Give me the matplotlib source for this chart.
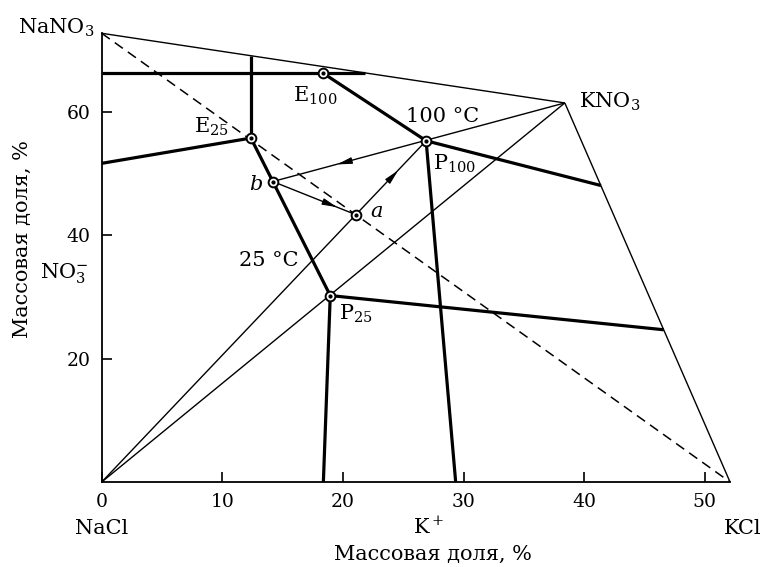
import matplotlib
matplotlib.use("Agg")
import matplotlib.pyplot as plt
import numpy as np

# ---- data (mass fractions, %) ----
corner_names = ["NaCl", "NaNO3", "KNO3", "KCl"]
corner_x = [0.0, 0.0, 38.4, 52.1]
corner_y = [0.0, 72.8, 61.5, 0.0]

point_names = ["E25", "E100", "b", "a", "P100", "P25"]
point_x = [12.37, 18.34, 14.19, 21.1, 26.9, 18.95]
point_y = [55.8, 66.35, 48.75, 43.35, 55.36, 30.25]

# ends of thick boundary curves
edge_names = ["L66", "R66", "E25top", "L52", "P25bot", "P25right", "P100right", "P100bot"]
edge_x = [0.0, 21.85, 12.37, 0.0, 18.38, 46.6, 41.4, 29.35]
edge_y = [66.35, 66.35, 69.16, 51.7, 0.0, 24.7, 48.1, 0.0]

xticks = [0, 10, 20, 30, 40, 50]
yticks = [20, 40, 60]

P = {}
for n, x, y in zip(corner_names, corner_x, corner_y):
    P[n] = (x, y)
for n, x, y in zip(point_names, point_x, point_y):
    P[n] = (x, y)
for n, x, y in zip(edge_names, edge_x, edge_y):
    P[n] = (x, y)

thin_lines = [("NaNO3", "KNO3"), ("KNO3", "KCl"), ("NaCl", "KNO3"),
              ("NaCl", "P100"), ("b", "KNO3"), ("b", "a")]
thick_lines = [("L66", "R66"), ("E25top", "E25"), ("L52", "E25"),
               ("E25", "b"), ("b", "P25"), ("P25", "P25bot"), ("P25", "P25right"),
               ("E100", "P100"), ("P100", "P100right"), ("P100", "P100bot")]
arrows = [("b", "a", 0.77), ("a", "P100", 0.60), ("P100", "b", 0.58)]

plt.rcParams['font.family'] = ['DejaVu Serif']
plt.rcParams['mathtext.fontset'] = 'dejavuserif'

fig = plt.figure(figsize=(7.63, 5.67), dpi=100)
ax = fig.add_axes([0.1333, 0.1499, 0.8235, 0.7914])
ax.set_xlim(0, 52.1)
ax.set_ylim(0, 72.8)
for s in ["top", "right"]:
    ax.spines[s].set_visible(False)
for s in ["left", "bottom"]:
    ax.spines[s].set_linewidth(1.3)

# dashed diagonal
ax.plot([P["NaNO3"][0], P["KCl"][0]], [P["NaNO3"][1], P["KCl"][1]],
        color="black", lw=1.1, ls=(0, (6.5, 4)), clip_on=False)

for a, b in thin_lines:
    ax.plot([P[a][0], P[b][0]], [P[a][1], P[b][1]], color="black", lw=1.0,
            clip_on=False, solid_capstyle="butt")
for a, b in thick_lines:
    ax.plot([P[a][0], P[b][0]], [P[a][1], P[b][1]], color="black", lw=2.3,
            clip_on=False, solid_capstyle="butt")

for a, b, f in arrows:
    x0, y0 = P[a]
    x1, y1 = P[b]
    tx, ty = x0 + f * (x1 - x0), y0 + f * (y1 - y0)
    sx, sy = x0 + (f - 0.05) * (x1 - x0), y0 + (f - 0.05) * (y1 - y0)
    ax.annotate("", xy=(tx, ty), xytext=(sx, sy),
                arrowprops=dict(arrowstyle="-|>,head_length=0.9,head_width=0.2",
                                color="black", lw=0.8, shrinkA=0, shrinkB=0))

ax.plot(point_x, point_y, "o", ms=7, mfc="white", mec="black", mew=1.4, zorder=5)
ax.plot(point_x, point_y, "o", ms=2.0, color="black", zorder=6)

ax.set_xticks(xticks)
ax.set_yticks(yticks)
ax.tick_params(direction="in", length=7, width=1.2, labelsize=13.5, pad=8)

fs = 15
ax.text(-0.6, 72.8, "NaNO$_3$", ha="right", va="baseline", fontsize=fs)
ax.text(39.6, 60.7, "KNO$_3$", ha="left", va="baseline", fontsize=fs)
ax.text(0.0, -8.4, "NaCl", ha="center", va="baseline", fontsize=fs, clip_on=False)
ax.text(27.1, -8.4, "K$^+$", ha="center", va="baseline", fontsize=fs, clip_on=False)
ax.text(51.6, -8.4, "KCl", ha="left", va="baseline", fontsize=fs, clip_on=False)
ax.text(27.5, -12.6, "Массовая доля, %", ha="center", va="baseline", fontsize=fs)
ax.text(-6.6, 39.4, "Массовая доля, %", ha="center", va="center", rotation=90, fontsize=fs)
ax.text(-5.1, 33.0, "NO$_3^{-}$", ha="left", va="baseline", fontsize=fs)

ax.text(15.9, 61.7, "E$_{100}$", ha="left", va="baseline", fontsize=fs)
ax.text(7.66, 56.6, "E$_{25}$", ha="left", va="baseline", fontsize=fs)
ax.text(25.25, 58.4, "100 °C", ha="left", va="baseline", fontsize=fs)
ax.text(27.5, 50.65, "P$_{100}$", ha="left", va="baseline", fontsize=fs)
ax.text(13.3, 47.4, "b", ha="right", va="baseline", fontsize=fs, style="italic")
ax.text(22.26, 43.0, "a", ha="left", va="baseline", fontsize=fs, style="italic")
ax.text(11.42, 35.06, "25 °C", ha="left", va="baseline", fontsize=fs)
ax.text(19.64, 26.3, "P$_{25}$", ha="left", va="baseline", fontsize=fs)

fig.savefig("out.png", dpi=100)
